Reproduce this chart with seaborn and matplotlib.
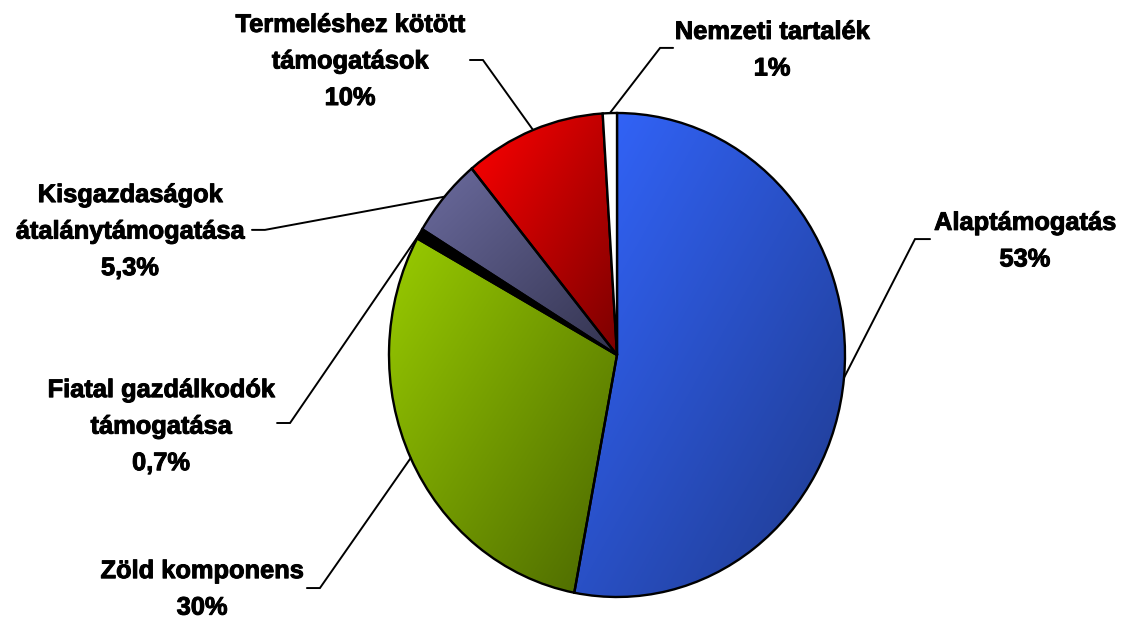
import numpy as np
import matplotlib
matplotlib.use("Agg")
import matplotlib.pyplot as plt
import matplotlib.patheffects as pe
import seaborn as sns

# ---- data ----
categories = ["Alaptámogatás", "Zöld komponens", "Fiatal gazdálkodók\ntámogatása",
              "Kisgazdaságok\nátalánytámogatása", "Termeléshez kötött\ntámogatások",
              "Nemzeti tartalék"]
shares = [53, 30, 0.7, 5.3, 10, 1]
share_labels = ["53%", "30%", "0,7%", "5,3%", "10%", "1%"]

# gradient colours (light top-left -> dark bottom-right)
light = ["#3366FF", "#99CC00", "#000000", "#6B6B9E", "#FF0000", "#FFFFFF"]
dark = ["#1F3A8C", "#4A6600", "#000000", "#33334F", "#7A0000", "#FFFFFF"]

# label layout in pie units: text centre x, first baseline y, leader stub y, stub x0, stub x1
lab_x = [1.789, -1.820, -2.000, -2.136, -1.171, 0.680]
lab_y = [0.517, -0.922, -0.174, 0.632, 1.335, 1.306]
stub_y = [0.479, -0.963, -0.281, 0.517, 1.219, 1.269]
stub_x0 = [1.373, -1.360, -1.491, -1.601, -0.645, 0.246]
stub_x1 = [1.307, -1.303, -1.434, -1.544, -0.588, 0.189]
line_pitch = 0.151

sns.set_style("white")
plt.rcParams['font.family'] = ['Liberation Sans', 'DejaVu Sans']

fig = plt.figure(figsize=(11.32, 6.18), dpi=100)
ax = fig.add_axes([0, 0, 1, 1])

wedges, _ = ax.pie(shares, colors=light, startangle=90, counterclock=False,
                   wedgeprops=dict(edgecolor="black", linewidth=1.7))

# gradient fill clipped to each wedge
for w, c1, c2 in zip(wedges, light, dark):
    if c1 == c2:
        continue
    ext = w.get_path().get_extents()
    n = 200
    u, v = np.meshgrid(np.linspace(0, 1, n), np.linspace(0, 1, n))
    t = (u + v) / 2  # 0 at top-left, 1 at bottom-right (origin upper)
    pal = np.array(sns.blend_palette([c1, c2], 256))
    img = pal[(t * 255).astype(int)]
    im = ax.imshow(img, extent=(ext.x0, ext.x1, ext.y0, ext.y1), origin="upper",
                   aspect="auto", interpolation="bilinear", zorder=2)
    im.set_clip_path(w)
    w.set_facecolor("none")

for w in wedges:
    w.set_zorder(3)

# leader lines and labels
bold = [pe.withStroke(linewidth=0.7, foreground="black")]
for i, w in enumerate(wedges):
    mid = np.deg2rad((w.theta1 + w.theta2) / 2)
    ex, ey = np.cos(mid), np.sin(mid)
    ax.plot([stub_x0[i], stub_x1[i], ex], [stub_y[i], stub_y[i], ey],
            color="black", lw=1.4, zorder=4, solid_joinstyle="miter")
    lines = categories[i].split("\n") + [share_labels[i]]
    for j, line in enumerate(lines):
        ax.text(lab_x[i], lab_y[i] - j * line_pitch, line, ha="center", va="baseline",
                fontsize=18.3, fontweight="bold", color="black", zorder=5,
                path_effects=bold)

ax.set_aspect("auto")
ax.set_xlim(-617 / 228, (1132 - 617) / 228)
ax.set_ylim(-(618 - 355) / 242, 355 / 242)
ax.axis("off")

fig.savefig("out.png", dpi=100, facecolor="white")
